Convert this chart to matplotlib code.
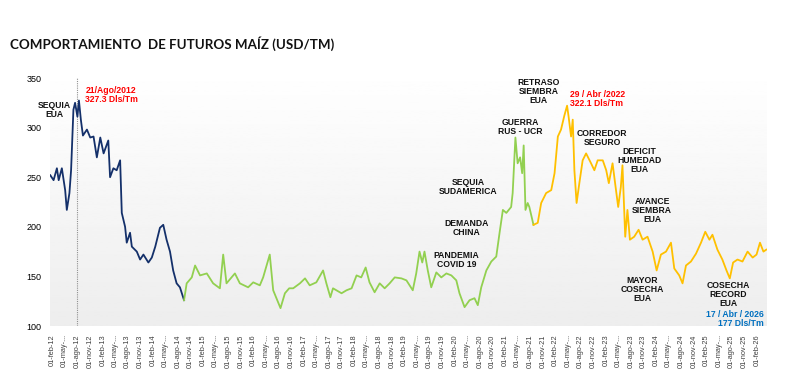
import numpy as np
import pandas as pd
import matplotlib
matplotlib.use("Agg")
import matplotlib.pyplot as plt
import matplotlib.dates as mdates

# --- datos (USD/TM) ---
navy_dates = ["2012-01-17", "2012-02-10", "2012-03-05", "2012-03-18", "2012-04-10", "2012-05-04",
              "2012-05-16", "2012-06-04", "2012-06-16", "2012-07-03", "2012-07-15", "2012-08-01",
              "2012-08-12", "2012-08-26", "2012-09-10", "2012-10-09", "2012-11-02", "2012-11-26",
              "2012-12-20", "2013-01-14", "2013-02-07", "2013-03-13", "2013-03-26", "2013-04-19",
              "2013-05-13", "2013-06-07", "2013-06-19", "2013-07-13", "2013-07-25", "2013-08-18",
              "2013-08-31", "2013-10-06", "2013-10-30", "2013-11-23", "2013-12-29", "2014-01-23",
              "2014-02-17", "2014-03-23", "2014-04-16", "2014-05-10", "2014-06-04", "2014-06-27",
              "2014-07-22", "2014-08-15", "2014-09-14"]
navy_vals = [252, 247, 259, 247, 259, 237,
             217, 234, 257, 318, 325, 311,
             327.3, 308, 292, 298, 290, 291,
             270, 290, 274, 287, 250, 259,
             257, 267, 214, 200, 184, 194,
             180, 175, 167, 172, 164, 169,
             180, 199, 202, 187, 175, 156,
             143, 139, 126]

green_dates = ["2014-09-14", "2014-10-03", "2014-11-09", "2014-12-03", "2015-01-08", "2015-02-26",
               "2015-04-13", "2015-06-01", "2015-06-25", "2015-07-19", "2015-09-18", "2015-10-24",
               "2015-12-23", "2016-01-29", "2016-03-17", "2016-04-10", "2016-05-28", "2016-06-22",
               "2016-08-14", "2016-09-15", "2016-10-16", "2016-11-14", "2017-01-02", "2017-02-08",
               "2017-03-14", "2017-05-01", "2017-06-19", "2017-07-13", "2017-08-11", "2017-08-30",
               "2017-10-31", "2017-12-06", "2018-01-12", "2018-02-17", "2018-03-23", "2018-04-24",
               "2018-05-22", "2018-06-28", "2018-08-04", "2018-09-09", "2018-10-15", "2018-11-21",
               "2019-01-09", "2019-02-14", "2019-04-01", "2019-04-26", "2019-05-20", "2019-06-09",
               "2019-06-25", "2019-07-19", "2019-08-13", "2019-09-19", "2019-10-25", "2019-12-01",
               "2020-01-06", "2020-02-11", "2020-03-05", "2020-04-11", "2020-05-17", "2020-06-22",
               "2020-07-16", "2020-08-10", "2020-09-16", "2020-10-22", "2020-11-27", "2020-12-21",
               "2021-01-14", "2021-02-08", "2021-03-15", "2021-03-26", "2021-04-15", "2021-05-01",
               "2021-05-19", "2021-06-03", "2021-06-14", "2021-06-27", "2021-07-13", "2021-07-25",
               "2021-08-24"]
green_vals = [126, 143, 149, 161, 151, 153,
              143, 138, 172, 143, 153, 143,
              139, 144, 141, 149, 172, 136,
              118, 133, 138, 138, 143, 148,
              141, 144, 156, 143, 129, 138,
              133, 136, 138, 151, 149, 159,
              144, 134, 143, 138, 143, 149,
              148, 146, 136, 153, 175, 164,
              175, 156, 139, 154, 149, 153,
              151, 146, 133, 119, 126, 128,
              121, 139, 156, 165, 170, 194,
              217, 214, 220, 234, 290, 264,
              270, 254, 282, 217, 224, 220,
              202]

gold_dates = ["2021-08-24", "2021-09-24", "2021-10-19", "2021-11-24", "2021-12-31", "2022-01-24",
              "2022-02-17", "2022-03-12", "2022-04-05", "2022-04-25", "2022-05-06", "2022-05-24",
              "2022-06-05", "2022-06-17", "2022-07-03", "2022-07-23", "2022-08-16", "2022-09-10",
              "2022-10-16", "2022-11-09", "2022-12-03", "2023-01-09", "2023-02-03", "2023-02-22",
              "2023-03-21", "2023-04-15", "2023-05-01", "2023-05-20", "2023-06-01", "2023-06-21",
              "2023-07-07", "2023-07-25", "2023-08-25", "2023-09-26", "2023-10-25", "2023-11-30",
              "2024-01-06", "2024-02-04", "2024-03-06", "2024-04-12", "2024-05-18", "2024-06-11",
              "2024-07-17", "2024-08-10", "2024-09-04", "2024-10-10", "2024-11-16", "2024-12-22",
              "2025-01-22", "2025-02-21", "2025-03-15", "2025-04-20", "2025-05-26", "2025-06-25",
              "2025-07-19", "2025-08-12", "2025-09-13", "2025-10-19", "2025-11-25", "2026-01-01",
              "2026-01-29", "2026-02-23", "2026-03-20", "2026-04-10"]
gold_vals = [202, 204, 224, 234, 237, 254,
             291, 298, 312, 322.1, 311, 291,
             308, 257, 224, 244, 267, 274,
             264, 257, 267, 267, 257, 244,
             264, 237, 220, 240, 262, 190,
             217, 187, 190, 197, 187, 190,
             175, 156, 172, 175, 184, 158,
             151, 143, 161, 165, 173, 184,
             195, 187, 192, 177, 167, 156,
             148, 164, 167, 165, 175, 169,
             172, 184, 175, 177]

meses = ["ene", "feb", "mar", "abr", "may", "jun", "jul", "ago", "sep", "oct", "nov", "dic"]

notas = [("SEQUIA\nEUA", "2012-02-15", 318),
         ("SEQUIA\nSUDAMERICA", "2020-05-10", 240),
         ("DEMANDA\nCHINA", "2020-04-25", 199),
         ("PANDEMIA\nCOVID 19", "2020-02-13", 166.5),
         ("GUERRA\nRUS - UCR", "2021-05-20", 300.5),
         ("RETRASO\nSIEMBRA\nEUA", "2021-09-30", 336),
         ("CORREDOR\nSEGURO", "2023-01-06", 290),
         ("DEFICIT\nHUMEDAD\nEUA", "2023-10-01", 267),
         ("AVANCE\nSIEMBRA\nEUA", "2024-01-03", 216),
         ("MAYOR\nCOSECHA\nEUA", "2023-10-22", 137),
         ("COSECHA\nRECORD\nEUA", "2025-07-07", 132)]

navy = "#14306a"
green = "#92d050"
gold = "#ffc000"

fig = plt.figure(figsize=(8, 3.8), dpi=100)
ax = fig.add_axes([50 / 800, 1 - 326 / 380, 717 / 800, 248 / 380])

x0 = mdates.date2num(pd.Timestamp("2012-01-15"))
x1 = mdates.date2num(pd.Timestamp("2026-04-15"))
grad = np.linspace(1.0, 0.93, 200).reshape(-1, 1)
ax.imshow(grad, cmap="gray", vmin=0, vmax=1, aspect="auto",
          extent=[x0, x1, 100, 362], zorder=0)

ax.plot(pd.to_datetime(navy_dates), navy_vals, color=navy, lw=1.3, zorder=3)
ax.plot(pd.to_datetime(green_dates), green_vals, color=green, lw=1.3, zorder=3)
ax.plot(pd.to_datetime(gold_dates), gold_vals, color=gold, lw=1.3, zorder=3)

ax.axvline(pd.Timestamp("2012-08-01"), ymin=0, ymax=1.0, color="#909090",
           lw=0.8, ls=(0, (1, 1)), zorder=2)

ax.set_xlim(x0, x1)
ax.set_ylim(100, 350)
for s in ax.spines.values():
    s.set_visible(False)

ticks = [pd.Timestamp(f"{a}-{m:02d}-01") for a in range(2012, 2027) for m in (2, 5, 8, 11)
         if pd.Timestamp(f"{a}-{m:02d}-01") <= pd.Timestamp("2026-02-01")]
labels = [f"01-{meses[t.month - 1]}-..." if t.month == 5 else f"01-{meses[t.month - 1]}-{t.year % 100:02d}"
          for t in ticks]
ax.set_xticks(ticks)
ax.set_xticklabels(labels, rotation=90, fontsize=5.3, color="#404040", family="Liberation Sans")
ax.tick_params(axis="x", length=0, pad=6)
ax.set_xticks([pd.Timestamp(f"{a}-05-01") for a in range(2012, 2026)], minor=True)
ax.tick_params(axis="x", which="minor", length=3, color="#a0a0a0", width=0.8)

ax.set_yticks(range(100, 351, 50))
ax.set_yticklabels([str(v) for v in range(100, 351, 50)], family="Liberation Sans")
ax.tick_params(axis="y", length=0, labelsize=6.5, pad=6)

for txt, d, v in notas:
    ax.text(pd.Timestamp(d), v, txt, ha="center", va="center", fontsize=6.2,
            fontweight="bold", family="Liberation Sans", color="#111111",
            linespacing=1.0, zorder=4)

ax.text(pd.Timestamp("2012-09-27"), 333, "21/Ago/2012\n327.3 Dls/Tm", ha="left", va="center",
        fontsize=6.2, fontweight="bold", family="Liberation Sans", color="#ff0000", linespacing=1.0)
ax.text(pd.Timestamp("2022-05-18"), 329, "29 / Abr /2022\n322.1 Dls/Tm", ha="left", va="center",
        fontsize=6.2, fontweight="bold", family="Liberation Sans", color="#ff0000", linespacing=1.0)
ax.text(pd.Timestamp("2026-03-25"), 107.5, "17 / Abr / 2026\n177 Dls/Tm", ha="right", va="center",
        fontsize=6.2, fontweight="bold", family="Liberation Sans", color="#0070c0", linespacing=1.0)

fig.text(10 / 800, 1 - 44 / 380, "COMPORTAMIENTO  DE FUTUROS MAÍZ (USD/TM)", ha="left", va="center",
         fontsize=9.6, fontweight="bold", family="Lato", color="#111111")

fig.savefig("out.png", dpi=100)
